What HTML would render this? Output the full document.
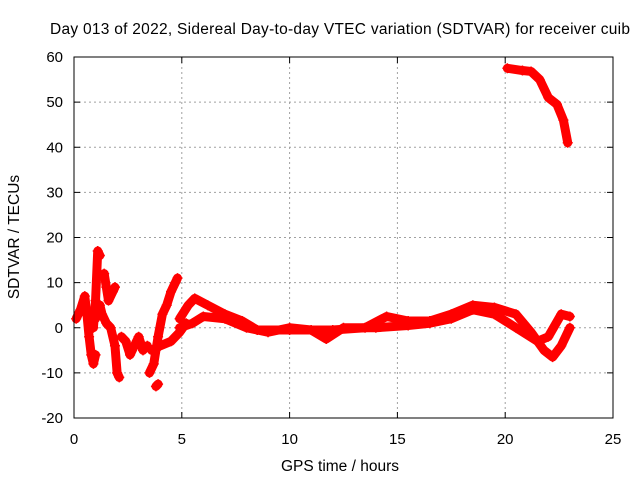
<!DOCTYPE html>
<html><head><meta charset="utf-8"><style>
body{margin:0;background:#fff}
svg{display:block;font-family:"Liberation Sans",sans-serif}
</style></head><body>
<svg id="chart" width="640" height="480">
<text x="340" y="34" font-size="15.5" text-anchor="middle" textLength="580">Day 013 of 2022, Sidereal Day-to-day VTEC variation (SDTVAR) for receiver cuib</text>
<text x="340" y="471" font-size="15.5" text-anchor="middle">GPS time / hours</text>
<text transform="translate(19,237) rotate(-90)" font-size="15.5" text-anchor="middle">SDTVAR / TECUs</text>
<g id="grid"></g><g id="marks"></g>
<rect x="74" y="57" width="539" height="361" fill="none" stroke="#000" stroke-width="1"/>
</svg>
<script>
const xTicks=[0,5,10,15,20,25];
const yTicks=[-20,-10,0,10,20,30,40,50,60];
const seriesUpper=[[4.9,2],[5.3,5],[5.6,6.5],[6.2,5],[7,3],[7.8,1.5],[8.5,-0.5],[10,-0.5],[12,-0.5],[13.5,0],[14.5,2.5],[15.5,1.5],[16.5,1.5],[17.5,3],[18.5,5],[19.5,4.5],[20.5,3],[21.2,-1],[21.8,-5],[22.2,-6.5],[22.6,-4],[23,0]];
const seriesLower=[[4.9,0],[5.5,1],[6,2.5],[7,2],[8,0],[9,-1],[10,0],[11,-0.5],[11.7,-2.5],[12.5,0],[14,0],[15.5,0.5],[16.5,1],[17.5,2],[18.5,4],[19.5,3],[20.5,0],[21.5,-3],[22,-2],[22.6,3],[23,2.5]];
const seriesHigh=[[20.1,57.5],[20.8,57],[21.2,56.8],[21.6,55],[22,51],[22.4,49.5],[22.7,46],[22.9,41]];
const seriesEarly1=[[0.1,2],[0.3,4],[0.5,7],[0.6,3],[0.7,-2],[0.8,-6],[0.9,-8],[1.0,-6]];
const seriesEarly2=[[0.9,0],[1.0,6],[1.1,17],[1.2,16]];
const seriesEarly3=[[1.0,2],[1.2,5],[1.3,3],[1.5,1],[1.7,0],[1.9,-4],[2.0,-10],[2.1,-11]];
const seriesEarly4=[[1.4,12],[1.5,9],[1.6,6],[1.8,8],[1.9,9]];
const seriesEarly5=[[2.2,-2],[2.4,-3],[2.6,-6],[2.8,-4],[3.0,-2],[3.2,-5],[3.4,-4]];
const seriesEarly6=[[3.5,-10],[3.7,-8],[3.9,-2],[4.1,3],[4.3,5],[4.5,8],[4.7,10],[4.8,11]];
const seriesEarly7=[[3.8,-13],[3.9,-12.5]];
const seriesEarly8=[[3.6,-5],[4.0,-4],[4.5,-3],[4.9,-1],[5.2,1]];
const allSeries=[seriesUpper,seriesLower,seriesHigh,seriesEarly1,seriesEarly2,seriesEarly3,seriesEarly4,seriesEarly5,seriesEarly6,seriesEarly7,seriesEarly8];
const X=v=>74+(v-0)*(539/25);
const Y=v=>418-(v+20)*(361/80);
const NS="http://www.w3.org/2000/svg";
const grid=document.getElementById('grid'),marks=document.getElementById('marks');
function mk(t,a,p){const e=document.createElementNS(NS,t);for(const k in a)e.setAttribute(k,a[k]);p.appendChild(e);return e;}
xTicks.forEach(t=>{
 const x=X(t);
 if(t>0&&t<25){const l=mk('line',{x1:x,y1:57,x2:x,y2:418,stroke:'#a0a0a0','stroke-dasharray':'2,3'},grid);
 }
 mk('line',{x1:x,y1:418,x2:x,y2:412,stroke:'#000'},grid);mk('line',{x1:x,y1:57,x2:x,y2:63,stroke:'#000'},grid);
 const tx=mk('text',{x:x,y:444,'font-size':15,'text-anchor':'middle'},grid);tx.textContent=t;
 
});
yTicks.forEach(t=>{
 const y=Y(t);
 if(t>-20&&t<60){const l=mk('line',{x1:74,y1:y,x2:613,y2:y,stroke:'#a0a0a0','stroke-dasharray':'2,3'},grid);
 }
 mk('line',{x1:74,y1:y,x2:80,y2:y,stroke:'#000'},grid);mk('line',{x1:613,y1:y,x2:607,y2:y,stroke:'#000'},grid);
 const tx=mk('text',{x:63,y:y+5,'font-size':15,'text-anchor':'end'},grid);tx.textContent=t;
 
});
allSeries.forEach((s,i)=>{
 const pl=mk('polyline',{points:s.map(p=>X(p[0])+','+Y(p[1])).join(' '),fill:'none',stroke:'#f00','stroke-width':9,'stroke-linejoin':'round','stroke-linecap':'round'},marks);
 
 
 s.forEach(p=>{
  const x=X(p[0]),y=Y(p[1]);
  const m=mk('path',{d:`M${x-5},${y}h10M${x},${y-5}v10`,stroke:'#f00','stroke-width':1.5},marks);
  
  
 });
});
</script>
</body></html>
